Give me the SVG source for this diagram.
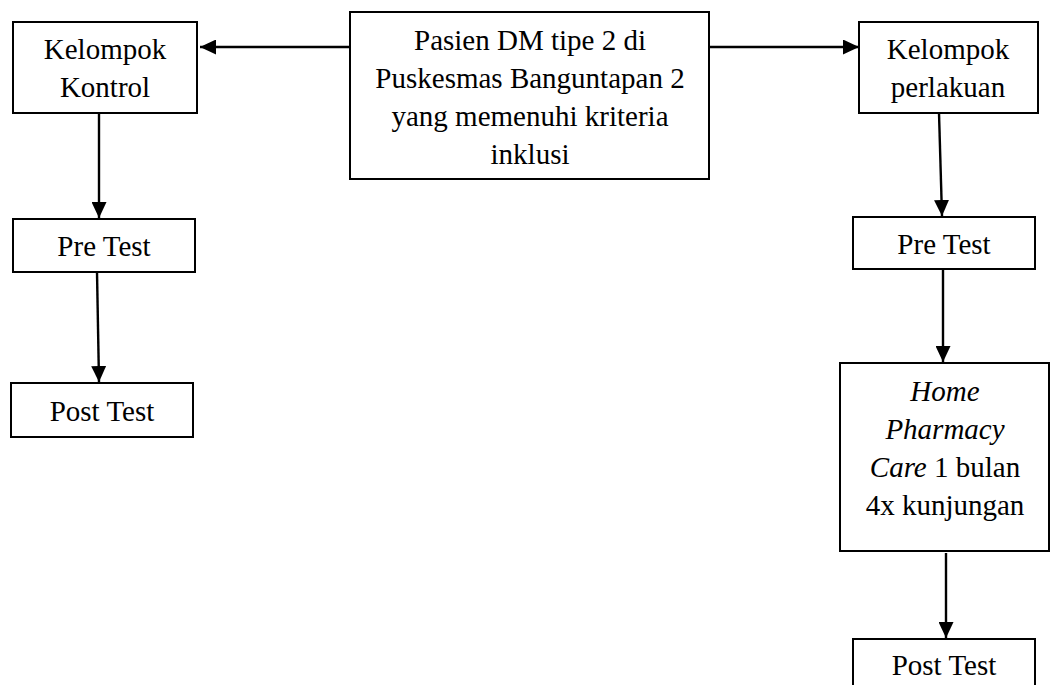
<svg xmlns="http://www.w3.org/2000/svg" width="1051" height="685" viewBox="0 0 1051 685">
<style>
.box{fill:#fff;stroke:#000;stroke-width:2}
.t{font-family:"Liberation Serif","Times New Roman",serif;font-size:29px;fill:#000;text-anchor:middle}
.c{stroke:#000;stroke-width:2.4;fill:none;marker-end:url(#ah)}
</style>
<defs>
<marker id="ah" markerUnits="userSpaceOnUse" markerWidth="17" markerHeight="15" refX="16" refY="7.5" orient="auto">
<path d="M0,0 L16,7.5 L0,15 z" fill="#000"/>
</marker>
</defs>
<rect width="1051" height="685" fill="#fff"/>
<g id="connectors">
<line class="c" x1="350" y1="47" x2="200" y2="47"/>
<line class="c" x1="709" y1="47" x2="859" y2="47"/>
<line class="c" x1="99" y1="113" x2="99" y2="218"/>
<line class="c" x1="97" y1="272" x2="99" y2="382"/>
<line class="c" x1="939" y1="113" x2="942" y2="216"/>
<line class="c" x1="943" y1="269" x2="943" y2="362"/>
<line class="c" x1="946" y1="553" x2="946" y2="638"/>
</g>
<g id="pasien">
<rect class="box" x="350" y="12" width="359" height="167"/>
<text class="t" x="530" y="50">Pasien DM tipe 2 di</text>
<text class="t" x="530" y="88">Puskesmas Banguntapan 2</text>
<text class="t" x="530" y="126">yang memenuhi kriteria</text>
<text class="t" x="530" y="164">inklusi</text>
</g>
<g id="kontrol">
<rect class="box" x="13" y="22" width="184" height="91"/>
<text class="t" x="105" y="59">Kelompok</text>
<text class="t" x="105" y="97">Kontrol</text>
</g>
<g id="pretest-kontrol">
<rect class="box" x="13" y="219" width="182" height="53"/>
<text class="t" x="104" y="256">Pre Test</text>
</g>
<g id="posttest-kontrol">
<rect class="box" x="11" y="383" width="182" height="54"/>
<text class="t" x="102" y="421">Post Test</text>
</g>
<g id="perlakuan">
<rect class="box" x="859" y="22" width="179" height="91"/>
<text class="t" x="948" y="59">Kelompok</text>
<text class="t" x="948" y="97">perlakuan</text>
</g>
<g id="pretest-perlakuan">
<rect class="box" x="853" y="217" width="182" height="52"/>
<text class="t" x="944" y="254">Pre Test</text>
</g>
<g id="home">
<rect class="box" x="840" y="363" width="209" height="188"/>
<text class="t" x="945" y="401" font-style="italic">Home</text>
<text class="t" x="945" y="439" font-style="italic">Pharmacy</text>
<text class="t" x="945" y="477"><tspan font-style="italic">Care</tspan> 1 bulan</text>
<text class="t" x="945" y="515">4x kunjungan</text>
</g>
<g id="posttest-perlakuan">
<rect class="box" x="853" y="639" width="182" height="60"/>
<text class="t" x="944" y="675">Post Test</text>
</g>
</svg>
